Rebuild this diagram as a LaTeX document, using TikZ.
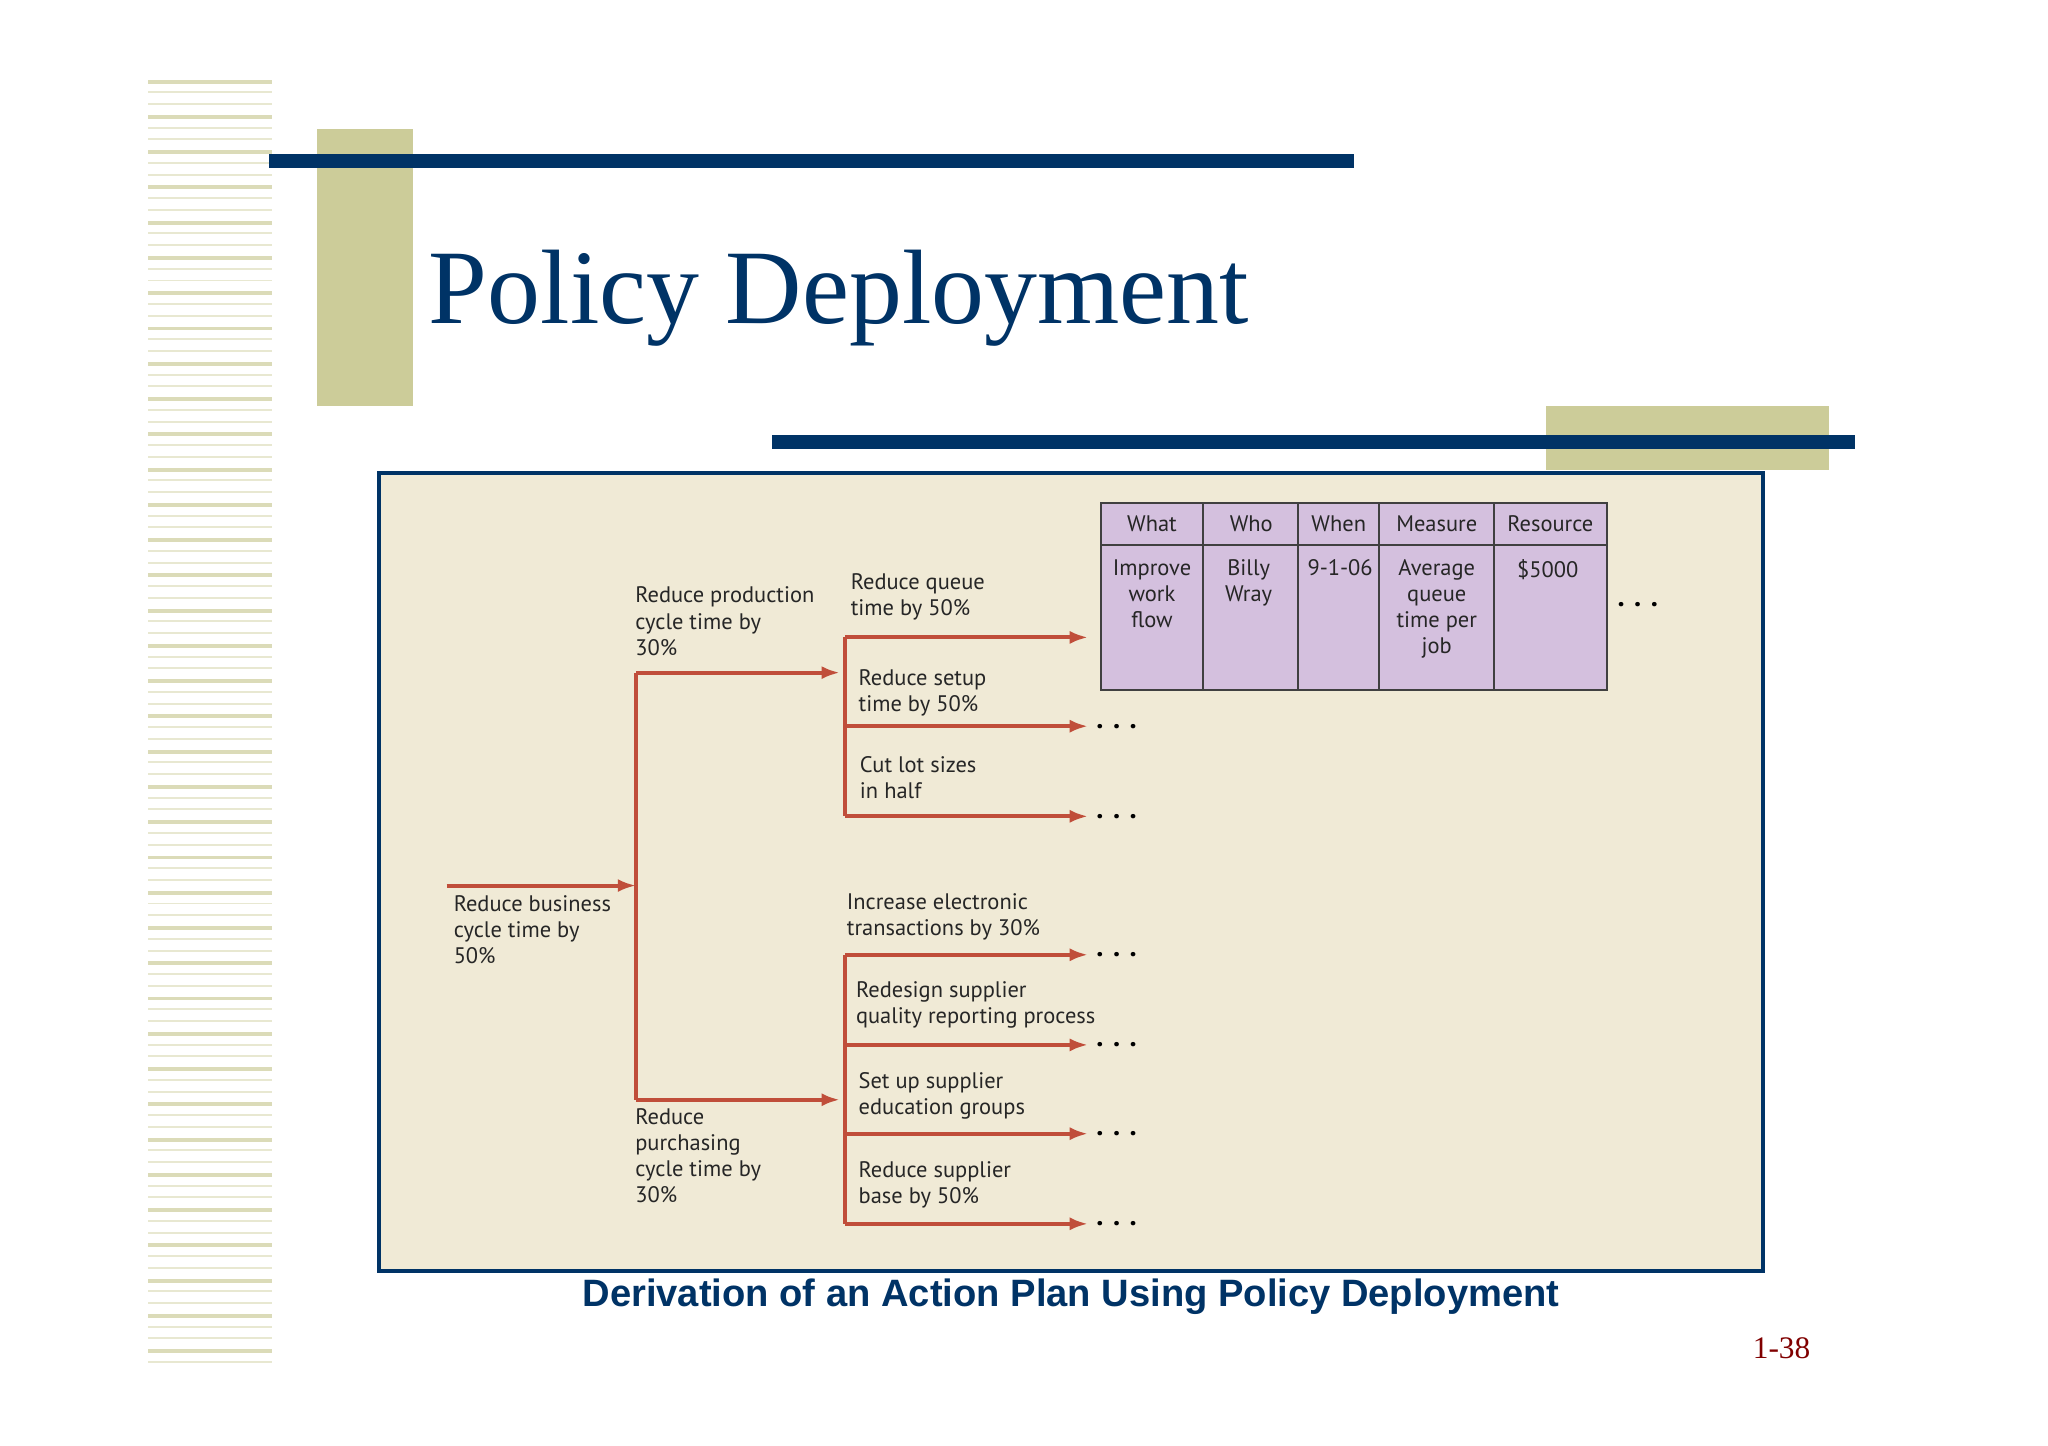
\documentclass[tikz,border=0pt]{standalone}
\usepackage{fontspec}
\setmainfont{Liberation Serif}
\newfontfamily\labfont{PT Sans}
\newfontfamily\capfont{Liberation Sans}
\usetikzlibrary{arrows.meta}
\definecolor{olive}{RGB}{204,204,153}
\definecolor{navy}{RGB}{0,51,102}
\definecolor{bg}{RGB}{240,234,214}
\definecolor{arr}{RGB}{192,78,58}
\definecolor{cell}{RGB}{212,192,222}
\begin{document}
\begin{tikzpicture}[x=0.5pt,y=-0.5pt,
  lbl/.style={anchor=north west,align=left,font=\labfont\fontsize{8.6}{10}\selectfont,inner sep=0pt,text=black!85},
  tc/.style={align=center,font=\labfont\fontsize{8.6}{10}\selectfont,inner sep=0pt,text=black!85},
  ar/.style={draw=arr,line width=1.5pt,-{Latex[length=7pt,width=5pt]}},
  ln/.style={draw=arr,line width=1.5pt},
  dots/.style={font=\labfont\bfseries\fontsize{11}{11}\selectfont,anchor=west,inner sep=0pt}]
\useasboundingbox (0,0) rectangle (1568,1107);
\fill[white] (0,0) rectangle (1568,1107);
% stripes
\foreach \i in {0,...,109}{
  \pgfmathsetmacro{\yy}{61+\i*9}
  \pgfmathtruncatemacro{\m}{mod(\i,3)}
  \ifnum\m=0 \fill[olive!70] (113,\yy) rectangle (208,\yy+3);
  \else \fill[olive!45] (113,\yy) rectangle (208,\yy+1.5);\fi
}
\fill[olive] (243,99) rectangle (316,311);
\fill[navy] (206,118) rectangle (1037,129);
\node[anchor=base west,text=navy,font=\fontsize{40.5}{42}\selectfont,inner sep=0pt] (title) at (328,248) {Policy Deployment};
\fill[olive] (1184,311) rectangle (1400,360);
\fill[navy] (591,333) rectangle (1420,344);
\draw[navy,fill=bg,line width=1.5pt] (290,362) rectangle (1350,973);
\node[text=navy,font=\capfont\bfseries\fontsize{14.6}{16}\selectfont] (capt) at (820,993) {Derivation of an Action Plan Using Policy Deployment};
\node[text=red!50!black,font=\fontsize{12}{14}\selectfont] (pg) at (1364,1032) {1-38};
% tree
\coordinate (s0) at (342,678); \coordinate (s1) at (487,678);
\draw[ar] (s0) -- (s1);
\coordinate (v1t) at (487,515); \coordinate (v1b) at (487,842);
\draw[ln] (v1t) -- (v1b);
\coordinate (a1) at (643,515); \coordinate (a2) at (643,842);
\draw[ar] (v1t) -- (a1); \draw[ar] (v1b) -- (a2);
\coordinate (u1) at (647,488); \coordinate (u2) at (647,625);
\draw[ln] (u1) -- (u2);
\foreach \y/\n in {488/p1,556/p2,625/p3}{\coordinate (\n s) at (647,\y); \coordinate (\n) at (833,\y); \draw[ar] (\n s) -- (\n);}
\coordinate (w1) at (647,731); \coordinate (w2) at (647,937);
\draw[ln] (w1) -- (w2);
\foreach \y/\n in {731/q1,800/q2,868/q3,937/q4}{\coordinate (\n s) at (647,\y); \coordinate (\n) at (833,\y); \draw[ar] (\n s) -- (\n);}
\foreach \n in {p2,p3,q1,q2,q3,q4}{\node[dots] at ([xshift=3pt]\n) {.\,\,.\,\,.};}
\node[lbl] (l0) at (347,685) {Reduce business\\cycle time by\\50\%};
\node[lbl] (l1) at (486,449) {Reduce production\\cycle time by\\30\%};
\node[lbl] (l2) at (486,848) {Reduce\\purchasing\\cycle time by\\30\%};
\node[lbl] (m1) at (651,439) {Reduce queue\\time by 50\%};
\node[lbl] (m2) at (657,512) {Reduce setup\\time by 50\%};
\node[lbl] (m3) at (658,579) {Cut lot sizes\\in half};
\node[lbl] (n1) at (648,684) {Increase electronic\\transactions by 30\%};
\node[lbl] (n2) at (655,751) {Redesign supplier\\quality reporting process};
\node[lbl] (n3) at (657,821) {Set up supplier\\education groups};
\node[lbl] (n4) at (657,889) {Reduce supplier\\base by 50\%};
% table
\draw[black!75,fill=cell,line width=0.8pt] (843,385) rectangle (1230,528);
\draw[black!75,line width=0.8pt] (843,417) -- (1230,417);
\foreach \x in {921,994,1056,1144}{\draw[black!75,line width=0.8pt] (\x,385) -- (\x,528);}
\node[tc] (h1) at (882,401) {What};
\node[tc] (h2) at (958,401) {Who};
\node[tc] (h3) at (1025,401) {When};
\node[tc] (h4) at (1100,401) {Measure};
\node[tc] (h5) at (1187,401) {Resource};
\node[tc,anchor=north] (c1) at (882,428) {Improve\\work\\flow};
\node[tc,anchor=north] (c2) at (956,428) {Billy\\Wray};
\node[tc,anchor=north] (c3) at (1026,428) {9-1-06};
\node[tc,anchor=north] (c4) at (1100,428) {Average\\queue\\time per\\job};
\node[tc,anchor=north] (c5) at (1185,428) {\$5000};
\node[dots] (d0) at (1238,463) {.\,\,.\,\,.};
\end{tikzpicture}
\end{document}
